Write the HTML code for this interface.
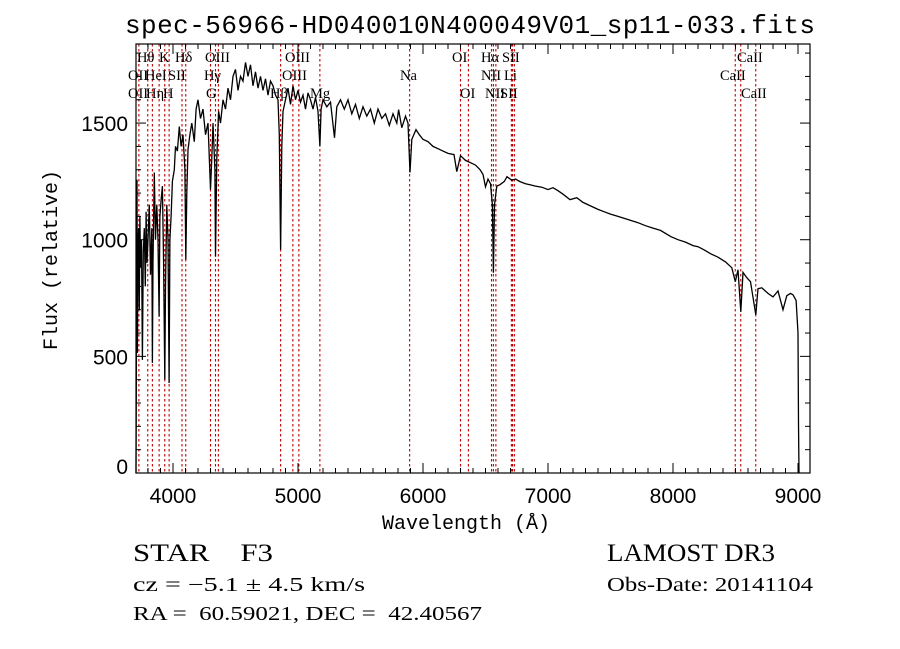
<!DOCTYPE html>
<html><head><meta charset="utf-8"><style>
body{margin:0;background:#fff;}
svg{display:block;}
.tk{font-family:"Liberation Sans",sans-serif;font-size:21px;fill:#000;}
.ln{font-family:"Liberation Serif",serif;font-size:14.5px;fill:#000;}
.mono{font-family:"Liberation Mono",monospace;fill:#000;}
.ser{font-family:"Liberation Serif",serif;fill:#000;}
</style></head><body>
<svg id="chart" width="900" height="649" viewBox="0 0 900 649">
<text x="470" y="33" class="mono" font-size="26" text-anchor="middle" textLength="690">spec-56966-HD040010N400049V01_sp11-033.fits</text>
<g id="lines"></g>
<g id="labels"></g>
<g id="ticks"></g>
<polyline id="spec" fill="none" stroke="#000" stroke-width="1.3"/>
<rect x="136" y="44" width="674" height="429" fill="none" stroke="#000" stroke-width="1.2"/>
<text x="466" y="529" class="mono" font-size="20" text-anchor="middle">Wavelength (Å)</text>
<text transform="translate(57,260) rotate(-90)" class="mono" font-size="20" text-anchor="middle">Flux (relative)</text>
<text x="133" y="561" class="ser" font-size="25" textLength="140" lengthAdjust="spacingAndGlyphs">STAR&#160;&#160;&#160;&#160;F3</text>
<text x="607" y="561" class="ser" font-size="25" textLength="168" lengthAdjust="spacingAndGlyphs">LAMOST DR3</text>
<text x="133" y="591" class="ser" font-size="20" textLength="232" lengthAdjust="spacingAndGlyphs">cz = −5.1 ± 4.5 km/s</text>
<text x="607" y="591" class="ser" font-size="20" textLength="206" lengthAdjust="spacingAndGlyphs">Obs-Date: 20141104</text>
<text x="133" y="620" class="ser" font-size="20" textLength="349" lengthAdjust="spacingAndGlyphs">RA =&#160;&#160;60.59021, DEC =&#160;&#160;42.40567</text>
</svg>
<script>
const wave=[3704,3708,3712,3715,3720,3725,3730,3735,3740,3748,3755,3762,3770,3778,3785,3792,3800,3810,3820,3830,3835,3840,3850,3860,3870,3880,3889,3895,3905,3915,3925,3934,3940,3950,3960,3969,3975,3985,3995,4010,4020,4035,4050,4065,4080,4095,4102,4110,4120,4135,4150,4170,4185,4200,4220,4240,4260,4280,4300,4310,4320,4335,4340,4350,4365,4380,4400,4420,4440,4460,4480,4500,4520,4540,4560,4580,4600,4620,4640,4660,4680,4700,4720,4740,4760,4780,4800,4820,4840,4850,4861,4870,4880,4900,4920,4940,4960,4980,5000,5020,5040,5060,5080,5100,5120,5140,5160,5175,5185,5200,5230,5260,5292,5310,5340,5370,5400,5430,5460,5490,5520,5550,5580,5610,5640,5670,5700,5730,5760,5790,5805,5830,5860,5880,5896,5910,5944,5970,6000,6040,6080,6120,6160,6200,6248,6270,6300,6340,6380,6420,6456,6480,6500,6520,6540,6555,6563,6572,6590,6616,6650,6672,6710,6740,6776,6820,6860,6900,6950,7000,7040,7080,7120,7176,7230,7280,7340,7400,7448,7500,7560,7620,7680,7720,7780,7840,7900,7984,8040,8100,8160,8200,8248,8300,8360,8420,8470,8498,8520,8542,8560,8590,8620,8662,8680,8710,8760,8800,8840,8880,8910,8940,8960,8985,9000,9004,9008,9012];
const flux=[0,600,1257,515,950,1050,700,1100,880,1000,485,950,1050,800,1120,900,1000,1150,850,1050,472,900,1288,1000,1150,1000,670,1100,1170,1230,900,400,800,1150,1000,386,1000,1100,1250,1300,1400,1380,1485,1400,1450,1300,914,1200,1386,1450,1500,1420,1560,1600,1520,1560,1450,1500,1215,1350,1500,1300,927,1350,1550,1500,1600,1560,1650,1600,1700,1730,1640,1700,1680,1760,1700,1750,1660,1720,1650,1700,1640,1690,1620,1680,1660,1620,1600,1450,957,1400,1550,1600,1650,1580,1660,1600,1640,1590,1620,1560,1630,1600,1560,1610,1550,1400,1560,1600,1570,1590,1437,1570,1600,1560,1600,1540,1580,1520,1570,1530,1560,1500,1560,1520,1540,1490,1540,1500,1558,1480,1530,1500,1288,1430,1472,1450,1430,1420,1400,1390,1380,1370,1365,1292,1360,1340,1330,1320,1300,1280,1227,1260,1240,1150,858,1150,1230,1236,1250,1270,1255,1260,1249,1240,1235,1230,1225,1215,1223,1210,1195,1172,1180,1160,1145,1130,1120,1110,1100,1090,1080,1073,1060,1050,1040,1013,1000,990,975,970,957,940,925,905,880,820,871,691,860,837,820,678,790,794,770,755,780,700,760,770,764,740,600,214,0];
const lineWave=[3727,3798,3835,3889,3934,3969,4072,4102,4300,4340,4363,4861,4959,5007,5175,5893,6300,6363,6548,6563,6583,6707,6716,6731,8498,8542,8662];
const lineLabels=[["Hθ",137,57],["K",159,57],["Hδ",175,57],["OIII",205,57],["OIII",285,57],["OI",452,57],["Hα",481,57],["SII",502,57],["CaII",737,57],
["OII",128,75],["HeI",145,75],["SII",168,75],["Hγ",204,75],["OIII",282,75],["Na",400,75],["NII",481,75],["Li",504,75],["CaII",720,75],
["OII",128,93],["Hη",146,93],["H",163,93],["G",206,93],["Hβ",270,93],["Mg",310,93],["OI",460,93],["NII",485,93],["SII",500,93],["CaII",741,93]];
const xTicks=[4000,5000,6000,7000,8000,9000];
const yTicks=[0,500,1000,1500];
const X0=136,X1=810,Y0=44,Y1=473,WMIN=3704,WMAX=9096,FMAX=1839;
function xs(w){return X0+(w-WMIN)/(WMAX-WMIN)*(X1-X0);}
function ys(f){return Y1-f/FMAX*(Y1-Y0);}
const NS="http://www.w3.org/2000/svg";
function mk(tag,attrs,parent){const e=document.createElementNS(NS,tag);for(const k in attrs)e.setAttribute(k,attrs[k]);parent.appendChild(e);return e;}
const sp=document.getElementById('spec');
sp.setAttribute('points',wave.map((w,i)=>xs(w).toFixed(1)+','+ys(Math.max(0,flux[i])).toFixed(1)).join(' '));
const lg=document.getElementById('lines');
lineWave.forEach(w=>{const l=mk('line',{x1:xs(w),x2:xs(w),y1:Y0,y2:Y1,stroke:'#c00000','stroke-width':1.1,'stroke-dasharray':'2.5,2.5'},lg);

});
const lb=document.getElementById('labels');
lineLabels.forEach(a=>{const t=mk('text',{x:a[1],y:a[2]+5,class:'ln'},lb);t.textContent=a[0];

});
const tg=document.getElementById('ticks');
for(let w=3800;w<=9000;w+=100){const x=xs(w);const major=w%1000===0;const L=major?10:5;
mk('line',{x1:x,x2:x,y1:Y1,y2:Y1-L,stroke:'#000'},tg);mk('line',{x1:x,x2:x,y1:Y0,y2:Y0+L,stroke:'#000'},tg);}
for(let f=0;f<=1800;f+=100){const y=ys(f);const major=f%500===0;const L=major?10:5;
mk('line',{x1:X0,x2:X0+L,y1:y,y2:y,stroke:'#000'},tg);mk('line',{x1:X1,x2:X1-L,y1:y,y2:y,stroke:'#000'},tg);}
xTicks.forEach(w=>{const t=mk('text',{x:xs(w),y:503,class:'tk','text-anchor':'middle'},tg);t.textContent=w;

});
yTicks.forEach(f=>{const t=mk('text',{x:128,y:ys(f)+8-(f===0?7:0),class:'tk','text-anchor':'end'},tg);t.textContent=f;

});
</script>
</body></html>
